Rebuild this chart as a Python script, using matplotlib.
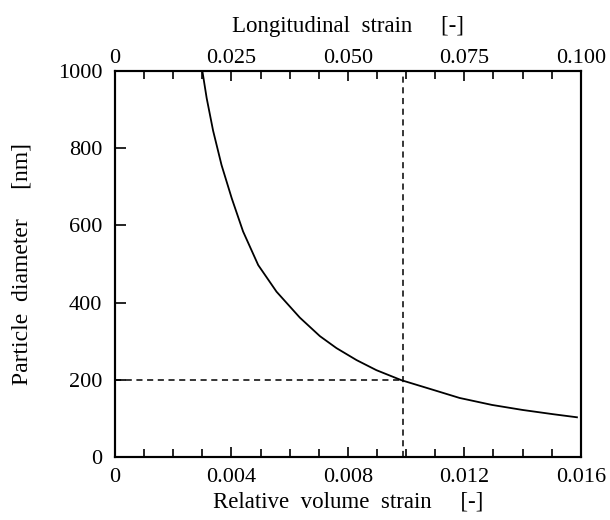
import numpy as np
import matplotlib
matplotlib.use('Agg')
from matplotlib import pyplot as plt
from matplotlib.ticker import MultipleLocator

# curve (relative volume strain, particle diameter nm)
vol_strain = [0.00300, 0.00315, 0.00337, 0.00366, 0.00401, 0.00440, 0.00492,
              0.00555, 0.00635, 0.00704, 0.00761, 0.00830, 0.00898, 0.00984,
              0.01093, 0.01184, 0.01295, 0.01400, 0.01505, 0.01587]
diameter = [1000, 929, 845, 756, 670, 584, 497, 428, 361, 313, 282, 251, 225,
            199, 174, 153, 135, 122, 111, 103]

# marked operating point
mark_x = 0.0099
mark_y = 200

bottom_ticks = [0, 0.004, 0.008, 0.012, 0.016]
bottom_labels = ['0', '0.004', '0.008', '0.012', '0.016']
top_ticks = [0, 0.025, 0.050, 0.075, 0.100]
top_labels = ['0', '0.025', '0.050', '0.075', '0.100']
y_ticks = [0, 200, 400, 600, 800, 1000]

plt.rcParams['font.family'] = ['Liberation Serif', 'DejaVu Serif']

fig = plt.figure(figsize=(6.1, 5.2), dpi=100)
ax = fig.add_axes([0.1885, 0.121, 0.7635, 0.743])

ax.plot(vol_strain, diameter, color='black', lw=1.3)
ax.plot([0, mark_x], [mark_y, mark_y], color='black', lw=1.1, ls=(0, (4, 3)))
ax.plot([mark_x, mark_x], [0, 1000], color='black', lw=1.1, ls=(0, (4, 3)))

ax.set_xlim(0, 0.016)
ax.set_ylim(0, 1000)
ax.set_xticks(bottom_ticks)
ax.set_xticklabels(bottom_labels)
ax.xaxis.set_minor_locator(MultipleLocator(0.001))
ax.set_yticks(y_ticks)
ax.tick_params(axis='both', which='both', direction='in', labelsize=16)
ax.tick_params(axis='x', which='major', length=7, width=1.2, pad=8)
ax.tick_params(axis='x', which='minor', length=6, width=1.2)
ax.tick_params(axis='y', which='major', length=8, width=1.2, pad=9)
for s in ax.spines.values():
    s.set_linewidth(1.5)

ax2 = ax.twiny()
ax2.set_xlim(0, 0.1)
ax2.set_xticks(top_ticks)
ax2.set_xticklabels(top_labels)
ax2.xaxis.set_minor_locator(MultipleLocator(0.00625))
ax2.tick_params(axis='x', which='both', direction='in', labelsize=16)
ax2.tick_params(axis='x', which='major', length=7, width=1.2, pad=2)
ax2.tick_params(axis='x', which='minor', length=6, width=1.2)
for s in ax2.spines.values():
    s.set_linewidth(1.5)

ax.set_xlabel('Relative  volume  strain     [-]', fontsize=16.5, labelpad=3)
ax2.set_xlabel('Longitudinal  strain     [-]', fontsize=16.5, labelpad=12)
ax.set_ylabel('Particle  diameter     [nm]', fontsize=17, labelpad=18)

fig.savefig('out.png', dpi=100)
